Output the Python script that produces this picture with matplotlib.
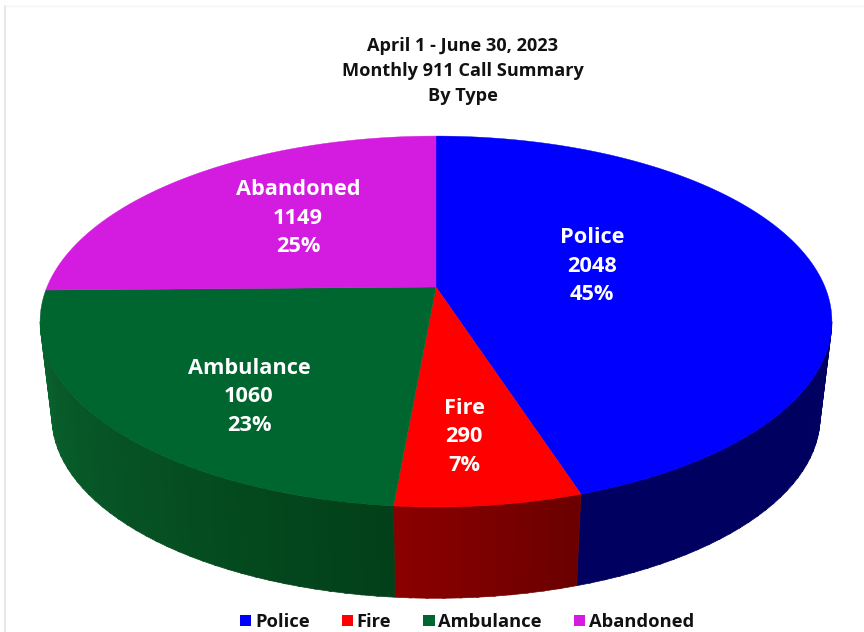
import numpy as np
import matplotlib
matplotlib.use("Agg")
import matplotlib.pyplot as plt
from matplotlib.patches import Polygon, Patch
from matplotlib.colors import to_rgb

# ---- data ----
categories = ["Police", "Fire", "Ambulance", "Abandoned"]
calls = [2048, 290, 1060, 1149]
percent_labels = ["45%", "7%", "23%", "25%"]
title_lines = ["April 1 - June 30, 2023", "Monthly 911 Call Summary", "By Type"]

# ---- style ----
top_colors = ["#0000FF", "#FF0000", "#00662F", "#D41BE0"]
wall_left = ["#000060", "#6A0000", "#024019", "#5A0F60"]     # wall colour at slice start angle
wall_right = ["#000060", "#8C0000", "#0A632E", "#5A0F60"]    # wall colour at slice end angle
label_xy = [(592, 266), (464, 437), (249, 397), (298, 218)]

plt.rcParams["font.family"] = ["Open Sans", "DejaVu Sans"]
fig = plt.figure(figsize=(8.64, 6.32), dpi=100, facecolor="white")
ax = fig.add_axes([0, 0, 1, 1])
ax.set_xlim(0, 864)
ax.set_ylim(632, 0)
ax.axis("off")

CX, CY, R, B, K = 436.0, 287.0, 389.0, 179.0, 0.186


def top_xy(theta, r=1.0):
    X, Z = r * np.sin(theta), r * np.cos(theta)
    d = 1 + K * Z
    return CX + R * X / d, CY - B * Z / d


def low_xy(theta):
    x, y = top_xy(theta)
    return CX + 0.97 * (x - CX), 103 + 0.977 * y


edges = np.concatenate([[0], np.cumsum(calls)]) / np.sum(calls) * 2 * np.pi

# faint page frame
ax.plot([5, 5], [6, 632], color="#E3E3E3", lw=1.2)
ax.plot([5, 864], [6, 6], color="#F4F4F4", lw=1.0)

# walls
vis0, vis1 = np.radians(100.8), np.radians(259.2)
for i in range(len(calls)):
    a0, a1 = max(edges[i], vis0), min(edges[i + 1], vis1)
    if a1 <= a0:
        continue
    n = max(2, int(np.degrees(a1 - a0) * 0.5))
    th = np.linspace(a0, a1, n + 1)
    c0, c1 = np.array(to_rgb(wall_left[i])), np.array(to_rgb(wall_right[i]))
    for j in range(n):
        t = np.linspace(th[j], th[j + 1] + (0.006 if j < n - 1 else 0), 8)
        xt, yt = top_xy(t)
        xl, yl = low_xy(t)
        pts = np.r_[np.c_[xt, yt], np.c_[xl, yl][::-1]]
        col = c0 + (c1 - c0) * (j + 0.5) / n
        ax.add_patch(Polygon(pts, closed=True, fc=col, ec=col, lw=0.5, zorder=2))

# top face
for i in range(len(calls)):
    t = np.linspace(edges[i], edges[i + 1], 300)
    xt, yt = top_xy(t)
    pts = np.r_[[[CX, CY]], np.c_[xt, yt]]
    ax.add_patch(Polygon(pts, closed=True, fc=top_colors[i], ec=top_colors[i], lw=0.3, zorder=3))

# data labels
for name, val, pct, (x, y) in zip(categories, calls, percent_labels, label_xy):
    ax.text(x, y, f"{name}\n{val}\n{pct}", color="white", fontsize=15.7, fontweight="bold",
            ha="center", va="center", linespacing=1.47, zorder=5)

# title
ax.text(462.5, 71, "\n".join(title_lines), color="#111111", fontsize=13.1, fontweight="bold",
        ha="center", va="center", linespacing=1.47, zorder=5)

# legend
handles = [Patch(fc=c, ec="none") for c in top_colors]
ax.legend(handles, categories, loc="center", bbox_to_anchor=(467 / 864, 1 - 622 / 632), ncol=4,
          frameon=False, prop={"size": 13.2, "weight": "bold"}, handlelength=0.62, handleheight=0.62,
          handletextpad=0.2, columnspacing=1.75, borderpad=0, labelcolor="#111111")

fig.savefig("out.png", dpi=100)
